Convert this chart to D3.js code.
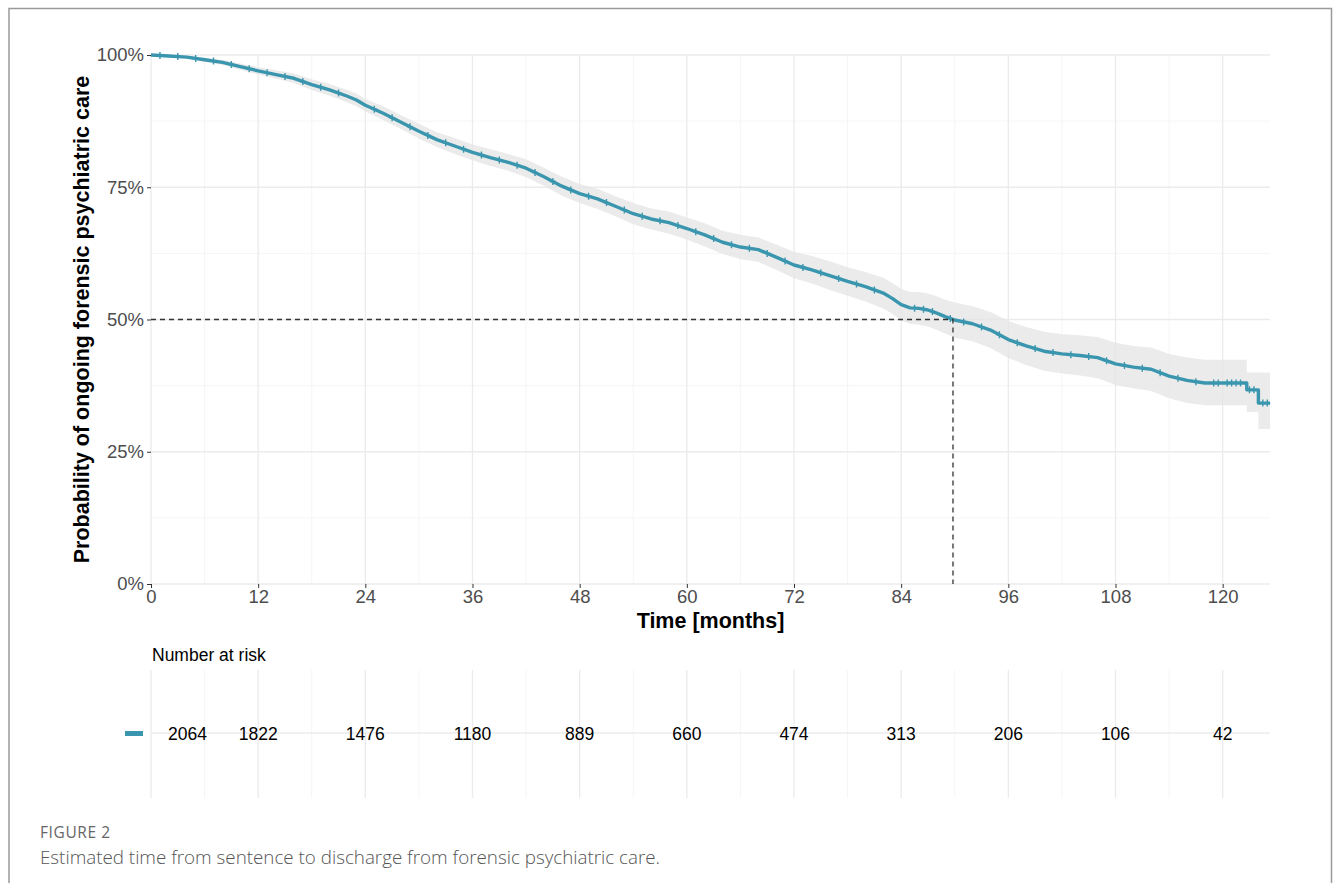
<!DOCTYPE html>
<html>
<head>
<meta charset="utf-8">
<script src="https://cdn.jsdelivr.net/npm/d3@7"></script>
<style>
  html, body { margin: 0; padding: 0; background: #fff; }
  svg { display: block; }
</style>
</head>
<body>
<svg id="chart" width="1333" height="883"></svg>
<script>
// ---- data (Kaplan-Meier estimate; repeated times mark vertical drops) ----
const times = [0,2,4,6,8,10,12,14,16,18,20,22,23,24,26,28,30,32,34,36,38,40,42,44,46,48,50,52,54,56,58,60,62,64,66,68,70,72,74,76,78,80,82,83,84,85,86,87,88,89,90,92,94,96,98,100,102,104,106,108,110,112,114,116,118,120,122.7,122.7,124,124,125.3];
const survival = [1.000,0.998,0.996,0.991,0.986,0.978,0.970,0.963,0.956,0.944,0.934,0.922,0.915,0.905,0.890,0.873,0.856,0.840,0.828,0.816,0.806,0.797,0.786,0.770,0.752,0.738,0.728,0.714,0.700,0.690,0.683,0.672,0.660,0.646,0.637,0.632,0.618,0.603,0.594,0.583,0.572,0.562,0.550,0.540,0.528,0.522,0.521,0.518,0.512,0.505,0.499,0.492,0.480,0.462,0.450,0.440,0.435,0.432,0.428,0.416,0.410,0.406,0.393,0.385,0.380,0.380,0.380,0.367,0.367,0.342,0.342];
const lower = [1.000,0.996,0.993,0.987,0.981,0.972,0.963,0.955,0.947,0.934,0.923,0.910,0.903,0.893,0.877,0.860,0.842,0.826,0.813,0.801,0.790,0.781,0.769,0.753,0.734,0.720,0.709,0.695,0.680,0.670,0.662,0.651,0.638,0.624,0.614,0.609,0.594,0.578,0.568,0.556,0.545,0.534,0.521,0.511,0.498,0.492,0.490,0.487,0.480,0.473,0.466,0.459,0.446,0.427,0.414,0.403,0.398,0.394,0.389,0.376,0.370,0.365,0.351,0.342,0.338,0.338,0.338,0.325,0.325,0.293,0.293];
const upper = [1.000,1.000,0.999,0.995,0.991,0.984,0.977,0.971,0.965,0.954,0.945,0.934,0.927,0.917,0.903,0.886,0.870,0.854,0.843,0.831,0.822,0.813,0.803,0.787,0.770,0.756,0.747,0.733,0.720,0.710,0.704,0.693,0.682,0.668,0.660,0.655,0.642,0.628,0.620,0.610,0.599,0.590,0.579,0.569,0.558,0.552,0.552,0.549,0.544,0.537,0.532,0.525,0.514,0.497,0.486,0.477,0.472,0.470,0.467,0.456,0.450,0.447,0.435,0.428,0.424,0.424,0.424,0.400,0.400,0.400,0.400];
const censorTimes = [1,3,5,7,9,11,13,15,17,19,21,25,27,29,31,33,35,37,39,41,43,45,47,49,51,53,55,57,59,61,63,65,67,69,71,73,75,77,79,81,85.5,86.5,87.5,89.5,91,93,95,97,99,101,103,105,107,109,111,113,115,117,119,119.5,120.5,121,121.5,122,123,123.5,124.5,125];
const maxTime = 125.3;
const medianTime = 89.8;
const xTicks = [0,12,24,36,48,60,72,84,96,108,120];
const yTicks = [0,0.25,0.5,0.75,1];
const yMinor = [0.125,0.375,0.625,0.875];
const xMinor = [6,18,30,42,54,66,78,90,102,114];
const atRiskTimes = [0,12,24,36,48,60,72,84,96,108,120];
const atRisk = [2064,1822,1476,1180,889,660,474,313,206,106,42];
const yTitle = "Probability of ongoing forensic psychiatric care";
const xTitle = "Time [months]";
const tableTitle = "Number at risk";
const figLabel = "FIGURE 2";
const caption = "Estimated time from sentence to discharge from forensic psychiatric care.";

// ---- layout ----
const svg = d3.select("#chart");
const C = "#3a96ae";
const font = "'Liberation Sans', Arial, sans-serif";
const x = d3.scaleLinear().domain([0, maxTime]).range([151, 1270]);
const y = d3.scaleLinear().domain([0, 1]).range([584, 55]);

// frame
svg.append("path").attr("d", "M9,883 L9,8.5 L1331.5,8.5 L1331.5,883")
  .attr("fill", "none").attr("stroke", "#9a9a9a").attr("stroke-width", 1.5);

// gridlines
const g = svg.append("g");
g.selectAll(".ymin").data(yMinor).join("line")
  .attr("x1", x(0)).attr("x2", x(maxTime)).attr("y1", d => y(d)).attr("y2", d => y(d))
  .attr("stroke", "#f3f3f3").attr("stroke-width", 0.8);
g.selectAll(".xmin").data(xMinor).join("line")
  .attr("x1", d => x(d)).attr("x2", d => x(d)).attr("y1", y(0)).attr("y2", y(1))
  .attr("stroke", "#f3f3f3").attr("stroke-width", 0.8);
g.selectAll(".ymaj").data(yTicks).join("line")
  .attr("x1", x(0)).attr("x2", x(maxTime)).attr("y1", d => y(d)).attr("y2", d => y(d))
  .attr("stroke", "#ebebeb").attr("stroke-width", 1.3);
g.selectAll(".xmaj").data(xTicks).join("line")
  .attr("x1", d => x(d)).attr("x2", d => x(d)).attr("y1", y(0)).attr("y2", y(1))
  .attr("stroke", "#ebebeb").attr("stroke-width", 1.3);

// data rows
const rows = times.map((t, i) => ({t, s: survival[i], lo: lower[i], up: upper[i]}));

// CI band
svg.append("path").datum(rows)
  .attr("d", d3.area().x(d => x(d.t)).y0(d => y(d.lo)).y1(d => y(d.up)))
  .attr("fill", "#e4e4e4").attr("fill-opacity", 0.75);

// KM line
svg.append("path").datum(rows)
  .attr("d", d3.line().x(d => x(d.t)).y(d => y(d.s)))
  .attr("fill", "none").attr("stroke", C).attr("stroke-width", 3.4).attr("stroke-linejoin", "round");

// censor marks (placed on the estimate curve)
const sAt = t => { let i = d3.bisectRight(times, t) - 1; i = Math.max(0, Math.min(i, times.length - 2));
  const t0 = times[i], t1 = times[i+1]; const f = t1 === t0 ? 0 : (t - t0) / (t1 - t0);
  return survival[i] + f * (survival[i+1] - survival[i]); };
svg.append("g").selectAll("path").data(censorTimes).join("path")
  .attr("d", t => { const cx = x(t), cy = y(sAt(t)); return `M${cx-3},${cy}H${cx+3}M${cx},${cy-3.5}V${cy+3.5}`; })
  .attr("stroke", C).attr("stroke-width", 1.4);

// median dashed lines
svg.append("path")
  .attr("d", `M${x(0)},${y(0.5)}H${x(medianTime)}V${y(0)}`)
  .attr("fill", "none").attr("stroke", "#333").attr("stroke-width", 1.3).attr("stroke-dasharray", "5,4");

// axes
const xAxis = svg.append("g").attr("transform", `translate(0,${y(0)})`)
  .call(d3.axisBottom(x).tickValues(xTicks).tickSize(4).tickPadding(2).tickFormat(d3.format("d")));
xAxis.select(".domain").remove();
xAxis.selectAll("text").attr("font-family", font).attr("font-size", 18.5).attr("fill", "#4d4d4d");
xAxis.selectAll("line").attr("stroke", "#333");

const yAxis = svg.append("g").attr("transform", `translate(${x(0)},0)`)
  .call(d3.axisLeft(y).tickValues(yTicks).tickSize(4).tickPadding(3).tickFormat(d3.format(".0%")));
yAxis.select(".domain").remove();
yAxis.selectAll("text").attr("font-family", font).attr("font-size", 18.5).attr("fill", "#4d4d4d");
yAxis.selectAll("line").attr("stroke", "#333");

// titles
svg.append("text").attr("transform", `translate(89,${(y(0)+y(1))/2}) rotate(-90)`)
  .attr("text-anchor", "middle").attr("font-family", font).attr("font-weight", "bold")
  .attr("font-size", 21.5).attr("fill", "#000").text(yTitle);
svg.append("text").attr("x", (x(0)+x(maxTime))/2).attr("y", 628)
  .attr("text-anchor", "middle").attr("font-family", font).attr("font-weight", "bold")
  .attr("font-size", 21.5).attr("fill", "#000").text(xTitle);

// risk table
svg.append("text").attr("x", 152).attr("y", 661).attr("font-family", font)
  .attr("font-size", 17.5).attr("fill", "#000").text(tableTitle);
const tg = svg.append("g");
tg.selectAll(".tmin").data(xMinor).join("line")
  .attr("x1", d => x(d)).attr("x2", d => x(d)).attr("y1", 670).attr("y2", 798)
  .attr("stroke", "#f3f3f3").attr("stroke-width", 0.8);
tg.selectAll(".tmaj").data(xTicks).join("line")
  .attr("x1", d => x(d)).attr("x2", d => x(d)).attr("y1", 670).attr("y2", 798)
  .attr("stroke", "#ebebeb").attr("stroke-width", 1.3);
tg.append("line").attr("x1", x(0)).attr("x2", x(maxTime)).attr("y1", 733).attr("y2", 733)
  .attr("stroke", "#ebebeb").attr("stroke-width", 1.3);
svg.append("rect").attr("x", 125).attr("y", 731).attr("width", 18).attr("height", 5).attr("fill", C);
svg.append("g").selectAll("text").data(atRiskTimes.map((t, i) => ({t, n: atRisk[i]}))).join("text")
  .attr("x", d => d.t === 0 ? x(d.t) + 17 : x(d.t))
  .attr("text-anchor", d => d.t === 0 ? "start" : "middle")
  .attr("y", 740).attr("font-family", font).attr("font-size", 17.5).attr("fill", "#000")
  .text(d => d.n);

// caption
svg.append("text").attr("x", 40).attr("y", 838).attr("font-family", "'Open Sans', sans-serif")
  .attr("font-size", 15.5).attr("letter-spacing", 0.6).attr("fill", "#666").text(figLabel);
svg.append("text").attr("x", 40).attr("y", 864).attr("font-family", "'Open Sans', sans-serif")
  .attr("font-weight", 300).attr("font-size", 18.8).attr("fill", "#555").text(caption);
</script>
</body>
</html>
